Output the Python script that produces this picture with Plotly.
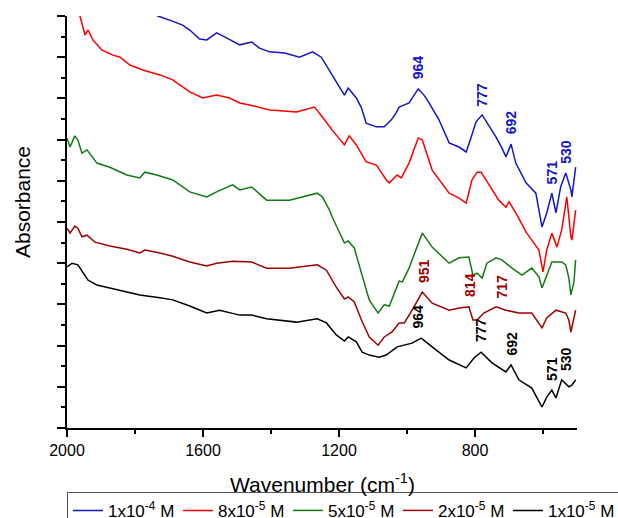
import plotly.graph_objects as go

# ---------------- data ----------------
wn_1e4 = [2000,1903,1815,1756,1733,1698,1660,1639,1610,1589,1560,1531,1492,1457,1434,1404,1360,1316,1278,1252,
          1228,1208,1184,1173,1149,1134,1120,1090,1067,1046,1032,1023,994,967,950,935,906,876,847,826,
          812,797,779,759,738,721,709,694,680,650,621,603,589,574,562,548,533,518,515,504]
ab_1e4 = [12.09,11.36,10.63,10.19,10.00,9.90,9.78,9.66,9.44,9.42,9.59,9.47,9.30,9.37,9.22,9.13,9.10,9.00,9.13,9.00,
          8.69,8.40,8.08,8.25,8.01,7.77,7.40,7.31,7.31,7.48,7.65,7.79,7.89,8.23,8.08,7.89,7.48,6.92,6.82,6.70,
          7.04,7.43,7.60,7.35,7.06,6.80,6.58,6.89,6.43,5.95,5.70,4.88,5.22,5.70,5.22,5.85,6.19,5.78,5.61,6.33]

wn_8e5 = [2000,1977,1962,1947,1938,1924,1897,1865,1844,1815,1777,1727,1689,1639,1601,1560,1522,1492,1463,1404,
          1325,1272,1249,1220,1184,1170,1149,1120,1090,1061,1052,1029,1017,994,967,955,926,876,847,826,
          809,794,782,759,730,709,700,680,650,633,612,600,589,574,559,545,530,518,515,504]
ab_8e5 = [10.87,10.44,10.00,9.54,9.66,9.42,9.17,9.05,9.00,8.81,8.69,8.57,8.45,8.16,8.01,8.08,8.01,7.89,7.84,7.72,
          7.67,7.79,7.55,7.23,6.87,7.09,6.87,6.46,6.38,6.02,5.95,6.14,6.07,6.43,7.04,6.99,6.26,5.70,5.58,5.46,
          6.02,6.21,6.21,5.90,5.53,5.36,5.49,5.22,4.76,4.56,4.32,3.79,4.32,4.73,4.39,4.81,5.61,4.64,4.56,5.29]

wn_5e5 = [2000,1991,1977,1968,1956,1941,1912,1874,1824,1786,1771,1736,1689,1639,1589,1560,1513,1492,1457,1413,
          1346,1264,1249,1228,1220,1199,1184,1173,1155,1134,1111,1085,1067,1052,1038,1023,1014,994,985,955,
          926,876,847,818,806,794,779,765,738,721,691,662,633,612,603,589,574,545,533,524,518,509,504]
ab_5e5 = [7.04,6.82,7.09,6.99,6.67,6.75,6.43,6.33,6.14,6.07,6.21,6.14,6.02,5.73,5.61,5.73,5.90,5.78,5.85,5.53,
          5.53,5.70,5.61,5.29,5.12,4.73,4.49,4.54,4.37,3.76,3.11,2.79,2.99,2.96,3.28,3.57,3.54,3.88,4.08,4.73,
          4.39,4.00,4.13,4.15,3.71,3.76,3.64,4.00,4.13,4.08,3.88,3.71,3.88,3.67,3.40,3.71,4.03,4.03,3.96,3.64,
          3.23,3.54,4.08]

wn_2e5 = [2000,1991,1977,1968,1956,1941,1918,1874,1824,1786,1771,1727,1689,1639,1589,1560,1513,1457,1413,1346,
          1264,1237,1208,1184,1173,1155,1134,1111,1085,1067,1044,1023,1008,985,955,926,876,847,818,806,
          794,774,738,709,671,633,603,589,562,533,524,518,504]
ab_2e5 = [4.85,4.73,4.90,4.85,4.64,4.68,4.51,4.42,4.34,4.25,4.32,4.25,4.17,4.03,3.93,4.00,4.05,4.03,3.88,3.88,
          3.96,3.83,3.42,3.13,3.18,3.06,2.62,2.21,2.01,2.21,2.33,2.55,2.55,2.86,3.30,3.03,2.86,2.91,2.94,2.62,
          2.62,2.79,2.94,2.86,2.79,2.79,2.43,2.67,2.86,2.79,2.62,2.33,2.86]

wn_1e5 = [2000,1985,1968,1953,1938,1912,1874,1824,1786,1727,1689,1639,1589,1551,1492,1457,1413,1325,1264,1237,
          1208,1184,1173,1149,1132,1111,1082,1061,1029,985,958,926,876,826,803,782,750,709,694,671,
          633,603,589,574,562,545,524,515,504]
ab_1e5 = [3.91,4.00,3.96,3.76,3.59,3.47,3.40,3.30,3.23,3.16,3.11,2.96,2.79,2.86,2.74,2.74,2.65,2.57,2.65,2.55,
          2.26,2.11,2.21,2.09,1.84,1.77,1.72,1.77,1.97,2.06,2.18,1.97,1.65,1.46,1.70,1.84,1.58,1.36,1.53,1.17,
          0.97,0.51,0.75,0.92,0.73,1.17,1.00,1.04,1.17]

series_names = ["1x10<sup>-4</sup> M", "8x10<sup>-5</sup> M", "5x10<sup>-5</sup> M",
                "2x10<sup>-5</sup> M", "1x10<sup>-5</sup> M"]
series_colors = ["#1414C8", "#FF0000", "#127A12", "#A00000", "#000000"]

# peak labels
blue_lbl = ["964", "777", "692", "571", "530"]
blue_lbl_x = [967, 779, 694, 574, 533]
blue_lbl_y = [8.76, 8.09, 7.42, 6.20, 6.70]
dred_lbl = ["951", "814", "717"]
dred_lbl_x = [950, 815, 721]
dred_lbl_y = [3.81, 3.47, 3.43]
blk_lbl = ["964", "777", "692", "571", "530"]
blk_lbl_x = [967, 782, 694, 574, 533]
blk_lbl_y = [2.71, 2.38, 2.05, 1.43, 1.67]

x_ticks = [2000, 1600, 1200, 800]

# ---------------- figure ----------------
FONT = "Liberation Sans, Arial, sans-serif"
fig = go.Figure()
for wn, ab, nm, col in zip([wn_1e4, wn_8e5, wn_5e5, wn_2e5, wn_1e5],
                           [ab_1e4, ab_8e5, ab_5e5, ab_2e5, ab_1e5],
                           series_names, series_colors):
    fig.add_trace(go.Scatter(x=wn, y=ab, mode="lines", name=nm,
                             line=dict(color=col, width=1.5)))

annos = []
for labels, xs, ys, col in [(blue_lbl, blue_lbl_x, blue_lbl_y, series_colors[0]),
                            (dred_lbl, dred_lbl_x, dred_lbl_y, series_colors[3]),
                            (blk_lbl, blk_lbl_x, blk_lbl_y, series_colors[4])]:
    for t, xv, yv in zip(labels, xs, ys):
        annos.append(dict(x=xv, y=yv, xref="x", yref="y", text="<b>" + t + "</b>", showarrow=False,
                          textangle=-90, xanchor="center", yanchor="middle",
                          font=dict(family=FONT, size=14, color=col)))

annos.append(dict(x=0.5, y=-0.1335, xref="paper", yref="paper",
                  text="Wavenumber (cm<sup>-1</sup>)", showarrow=False,
                  xanchor="center", yanchor="middle",
                  font=dict(family=FONT, size=21, color="black")))
annos.append(dict(x=-0.0882, y=0.5485, xref="paper", yref="paper",
                  text="Absorbance", showarrow=False, textangle=-90,
                  xanchor="center", yanchor="middle",
                  font=dict(family=FONT, size=21, color="black")))

axis_common = dict(showgrid=False, zeroline=False, showline=True,
                   linecolor="black", linewidth=1.5, tickcolor="black", tickwidth=1.5)

fig.update_layout(
    width=618, height=518,
    margin=dict(l=67, r=41, t=16, b=90, autoexpand=False),
    paper_bgcolor="white", plot_bgcolor="white",
    font=dict(family=FONT, color="black"),
    xaxis=dict(range=[2000, 500], tickvals=x_ticks, ticks="outside", ticklen=7,
               tickfont=dict(family=FONT, size=16, color="black"),
               minor=dict(dtick=200, tick0=0, ticks="outside", ticklen=4,
                          tickcolor="black", tickwidth=1.5),
               **axis_common),
    yaxis=dict(range=[0, 10], dtick=1, tick0=0, ticks="outside", ticklen=8,
               showticklabels=False,
               minor=dict(dtick=0.5, tick0=0, ticks="outside", ticklen=4,
                          tickcolor="black", tickwidth=1.5),
               **axis_common),
    xaxis2=dict(range=[2000, 500], overlaying="x", side="top", anchor="y",
                tickvals=x_ticks, ticks="inside", ticklen=7, showticklabels=False,
                minor=dict(dtick=200, tick0=0, ticks="inside", ticklen=4,
                           tickcolor="black", tickwidth=1.5),
                **axis_common),
    yaxis2=dict(range=[0, 10], overlaying="y", side="right", anchor="x",
                dtick=1, tick0=0, ticks="inside", ticklen=8, showticklabels=False,
                minor=dict(dtick=0.5, tick0=0, ticks="inside", ticklen=4,
                           tickcolor="black", tickwidth=1.5),
                **axis_common),
    showlegend=True,
    legend=dict(orientation="h", x=-0.0001, xanchor="left", y=-0.155, yanchor="top",
                entrywidth=65, entrywidthmode="pixels",
                bordercolor="#555555", borderwidth=1, bgcolor="white",
                font=dict(family=FONT, size=17, color="black"),
                itemclick=False),
    annotations=annos,
)

fig.write_html("out.html")
